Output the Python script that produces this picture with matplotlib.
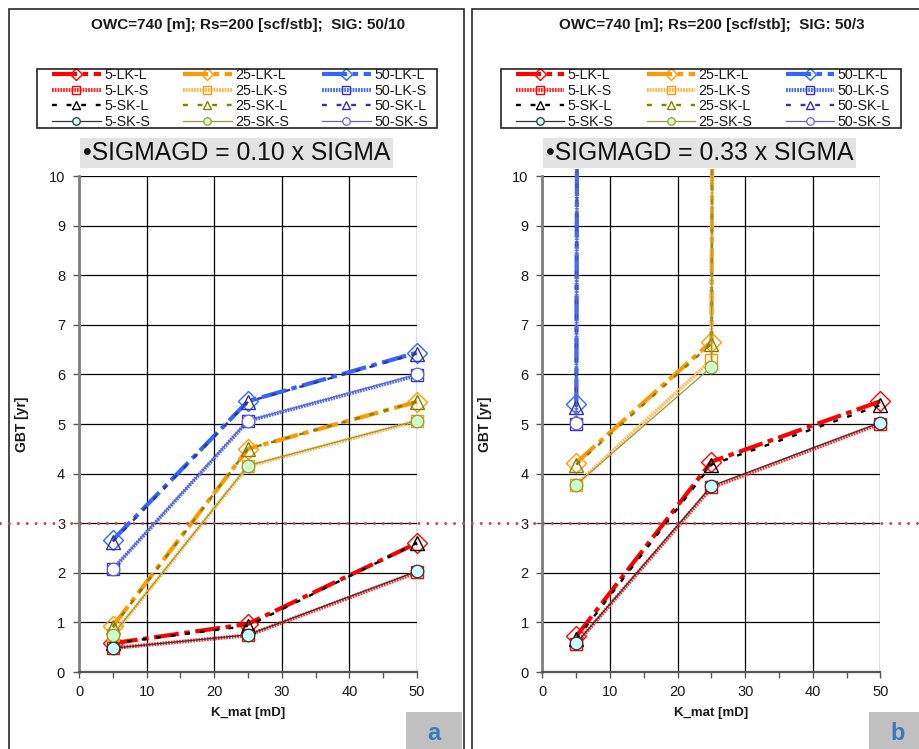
import matplotlib
matplotlib.use("Agg")
import matplotlib.pyplot as plt
import matplotlib.transforms as mtransforms
from matplotlib.patches import Rectangle
from matplotlib.lines import Line2D
from matplotlib import font_manager

plt.rcParams["font.family"] = ["Liberation Sans", "DejaVu Sans"]
plt.rcParams["lines.scale_dashes"] = False


def pick_font(families):
    for fam in families:
        try:
            font_manager.findfont(fam, fallback_to_default=False)
            return fam
        except ValueError:
            pass
    return "DejaVu Sans"


NARROW = pick_font(["Liberation Sans Narrow", "Liberation Sans"])

# ---------------------------------------------------------------- data
k_mat = [5, 25, 50]
NO_BT = 1000.0  # no gas breakthrough within the simulated period

# panel a : SIGMAGD = 0.10 x SIGMA
a_5_lk_l = [0.58, 0.97, 2.60]
a_5_lk_s = [0.48, 0.74, 2.01]
a_5_sk_l = [0.58, 0.93, 2.60]
a_5_sk_s = [0.48, 0.75, 2.03]
a_25_lk_l = [0.92, 4.50, 5.45]
a_25_lk_s = [0.74, 4.15, 5.06]
a_25_sk_l = [0.90, 4.50, 5.45]
a_25_sk_s = [0.75, 4.16, 5.07]
a_50_lk_l = [2.66, 5.46, 6.44]
a_50_lk_s = [2.07, 5.06, 5.98]
a_50_sk_l = [2.63, 5.45, 6.42]
a_50_sk_s = [2.08, 5.07, 6.00]

# panel b : SIGMAGD = 0.33 x SIGMA
b_5_lk_l = [0.72, 4.24, 5.46]
b_5_lk_s = [0.57, 3.72, 5.01]
b_5_sk_l = [0.66, 4.18, 5.38]
b_5_sk_s = [0.58, 3.75, 5.03]
b_25_lk_l = [4.22, 6.66, NO_BT]
b_25_lk_s = [3.78, 6.29, NO_BT]
b_25_sk_l = [4.18, 6.62, NO_BT]
b_25_sk_s = [3.78, 6.15, NO_BT]
b_50_lk_l = [5.40, NO_BT, NO_BT]
b_50_lk_s = [5.01, NO_BT, NO_BT]
b_50_sk_l = [5.35, NO_BT, NO_BT]
b_50_sk_s = [5.03, NO_BT, NO_BT]

series_labels = ["5-LK-L", "5-LK-S", "5-SK-L", "5-SK-S",
                 "25-LK-L", "25-LK-S", "25-SK-L", "25-SK-S",
                 "50-LK-L", "50-LK-S", "50-SK-L", "50-SK-S"]

panel_a = [a_5_lk_l, a_5_lk_s, a_5_sk_l, a_5_sk_s,
           a_25_lk_l, a_25_lk_s, a_25_sk_l, a_25_sk_s,
           a_50_lk_l, a_50_lk_s, a_50_sk_l, a_50_sk_s]
panel_b = [b_5_lk_l, b_5_lk_s, b_5_sk_l, b_5_sk_s,
           b_25_lk_l, b_25_lk_s, b_25_sk_l, b_25_sk_s,
           b_50_lk_l, b_50_lk_s, b_50_sk_l, b_50_sk_s]

titles = ["OWC=740 [m]; Rs=200 [scf/stb];  SIG: 50/10",
          "OWC=740 [m]; Rs=200 [scf/stb];  SIG: 50/3"]
notes = ["\u2022SIGMAGD = 0.10 x SIGMA", "\u2022SIGMAGD = 0.33 x SIGMA"]
letters = ["a", "b"]
x_ticks = [0, 10, 20, 30, 40, 50]
y_ticks = list(range(0, 11))
gbt_limit = 3.0

# ---------------------------------------------------------------- styles
LK_L_COLORS = {"5": "#ff0000", "25": "#ff9900", "50": "#3366ff"}
LK_S_COLORS = {"5": "#ff2a2a", "25": "#ffb84d", "50": "#4a6ff0"}
LK_S_EDGE = {"5": "#ff0000", "25": "#ff9900", "50": "#3333cc"}
SK_L_COLORS = {"5": "#000000", "25": "#808000", "50": "#333399"}
SK_S_COLORS = {"5": "#333333", "25": "#99993a", "50": "#6666cc"}
SK_S_FACE = {"5": "#ccffff", "25": "#ccffcc", "50": "#ffffff"}


def style_for(label):
    grp, kind, sub = label.split("-")
    key = kind + "-" + sub
    if key == "LK-L":
        c = LK_L_COLORS[grp]
        return dict(color=c, lw=3.0, dashes=(18, 4, 4, 4), marker="D",
                    ms=10, mfc="none", mec=c, mew=1.0, zorder=3)
    if key == "LK-S":
        c = LK_S_COLORS[grp]
        return dict(color=c, lw=2.8, dashes=(1.3, 0.7), marker="s",
                    ms=9, mfc="none", mec=LK_S_EDGE[grp], mew=1.0, zorder=3)
    if key == "SK-L":
        c = SK_L_COLORS[grp]
        return dict(color=c, lw=1.7, dashes=(3.5, 7), marker="^",
                    ms=10, mfc="none", mec=c, mew=1.0, zorder=4)
    c = SK_S_COLORS[grp]
    return dict(color=c, lw=0.9, ls="-", marker="o", ms=9,
                mfc=SK_S_FACE[grp], mec=c, mew=0.9, zorder=5)


# ---------------------------------------------------------------- figure
W, H = 920, 749
fig = plt.figure(figsize=(W / 100, H / 100), dpi=100)
fig.patch.set_facecolor("white")


def fx(px):
    return px / W


def fy(py):
    return 1 - py / H


def draw_panel(dx, values, title, note, letter):
    # panel frame
    fig.add_artist(Rectangle((fx(9 + dx), fy(760)), fx(455), fy(9) - fy(760),
                             transform=fig.transFigure, fill=False,
                             ec="#2a2a2a", lw=1.2, zorder=0))
    ax = fig.add_axes([fx(79 + dx), fy(672), fx(338), fy(176) - fy(672)])
    ax.set_xlim(0, 50)
    ax.set_ylim(0, 10)
    ax.set_xticks(x_ticks)
    ax.set_xticks([5, 15, 25, 35, 45], minor=True)
    ax.set_yticks(y_ticks)
    ax.grid(True, which="major", color="black", lw=0.9)
    ax.set_axisbelow(True)
    for side in ("top", "right"):
        ax.spines[side].set_visible(False)
    ax.spines["left"].set_color("#7f7f7f")
    ax.spines["left"].set_linewidth(2.0)
    ax.spines["bottom"].set_color("#555555")
    ax.spines["bottom"].set_linewidth(1.6)
    ax.tick_params(axis="both", which="both", direction="out", length=4,
                   width=1.0, color="#555555", labelsize=10.5,
                   labelcolor="#1a1a1a")
    ax.tick_params(axis="x", pad=5)
    ax.tick_params(axis="y", pad=6)
    for t in ax.get_xticklabels() + ax.get_yticklabels():
        t.set_fontfamily(NARROW)

    clip = Rectangle((-0.06, -0.06), 1.12, 1.075, transform=ax.transAxes)
    handles = []
    for label, yv in zip(series_labels, values):
        (ln,) = ax.plot(k_mat, yv, label=label, **style_for(label))
        ln.set_clip_path(clip)
        handles.append(ln)

    # legend with its own frame
    fig.add_artist(Rectangle((fx(37 + dx), fy(128)), fx(400), fy(69) - fy(128),
                             transform=fig.transFigure, fill=False,
                             ec="#222222", lw=1.2, zorder=6))
    leg = ax.legend(handles=handles, ncol=3, loc="center",
                    bbox_to_anchor=(fx(240 + dx), fy(98.5)),
                    bbox_transform=fig.transFigure, frameon=False,
                    fontsize=10.3, handlelength=3.4, handletextpad=0.25,
                    columnspacing=2.3, labelspacing=0.1, borderpad=0.0,
                    markerscale=0.6, numpoints=1)
    for t in leg.get_texts():
        t.set_color("#1a1a1a")

    fig.text(fx(248 + dx), fy(25), title, ha="center", va="center",
             fontsize=11, fontweight="bold", color="#1a1a1a")

    fig.add_artist(Rectangle((fx(80 + dx), fy(168)), fx(313), fy(138) - fy(168),
                             transform=fig.transFigure, fc="#e3e3e3",
                             ec="none", zorder=6))
    fig.text(fx(236.5 + dx), fy(153.5), note, ha="center", va="center",
             fontsize=17.8, color="#111111", zorder=7)

    fig.text(fx(22 + dx), fy(424), "GBT [yr]", rotation=90, ha="center",
             va="center", fontsize=10, fontweight="bold", color="#1a1a1a")
    fig.text(fx(248 + dx), fy(713), "K_mat [mD]", ha="center", va="center",
             fontsize=9.5, fontweight="bold", color="#1a1a1a")

    fig.add_artist(Rectangle((fx(406 + dx), fy(760)), fx(56), fy(712) - fy(760),
                             transform=fig.transFigure, fc="#c0c0c0",
                             ec="none", zorder=1))
    fig.text(fx(434 + dx), fy(734), letter, ha="center", va="center",
             fontsize=17, fontweight="bold", color="#3b78c0", zorder=2)
    return ax


axes = []
for i, (vals, ttl, nt, let) in enumerate(zip([panel_a, panel_b], titles,
                                             notes, letters)):
    axes.append(draw_panel(i * 463.5, vals, ttl, nt, let))

# GBT limit line running across both panels
trans = mtransforms.blended_transform_factory(fig.transFigure, axes[0].transData)
fig.add_artist(Line2D([0, 1], [gbt_limit, gbt_limit], transform=trans,
                      color="#c0504d", lw=2.2, dashes=(0.01, 6.4),
                      dash_capstyle="round", zorder=8))

fig.savefig("out.png", dpi=100, facecolor="white")
